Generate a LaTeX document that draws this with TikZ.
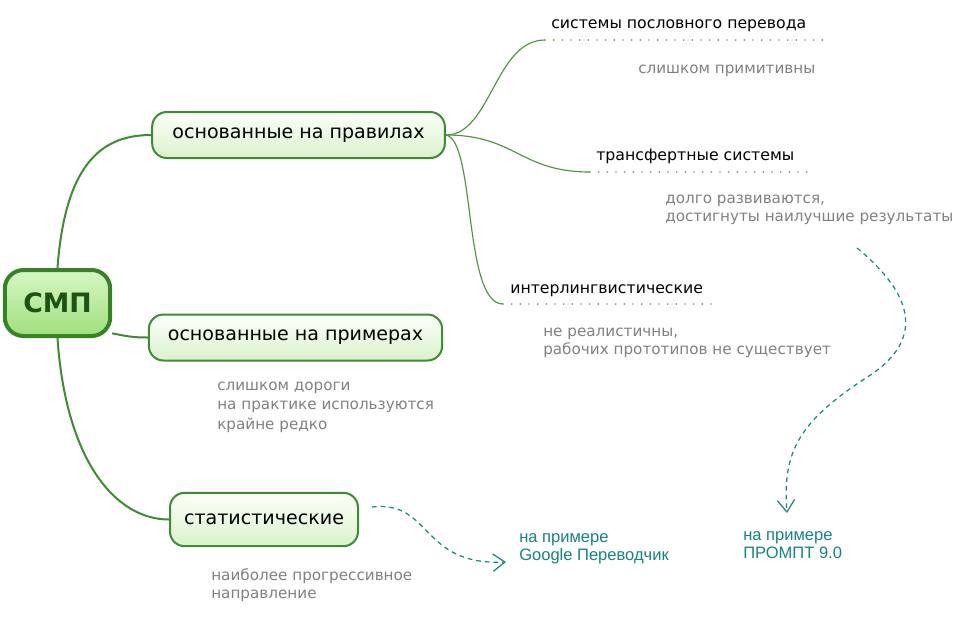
\documentclass[tikz,border=0pt]{standalone}
\usepackage{fontspec}
\setmainfont{DejaVu Sans}
\newfontfamily\arialfont{Liberation Sans}
\usetikzlibrary{arrows.meta}
\definecolor{MapGreen}{RGB}{62,140,50}
\definecolor{RootGreen}{RGB}{52,132,38}
\definecolor{TwigGreen}{RGB}{80,145,60}
\definecolor{DotGreen}{RGB}{105,170,88}
\definecolor{BoxTop}{RGB}{252,255,249}
\definecolor{BoxBot}{RGB}{218,242,204}
\definecolor{RootTop}{RGB}{215,246,195}
\definecolor{RootBot}{RGB}{158,224,125}
\definecolor{RootText}{RGB}{28,82,20}
\definecolor{NoteGray}{RGB}{128,128,128}
\definecolor{LinkTeal}{RGB}{20,132,126}

\begin{document}
\begin{tikzpicture}[x=0.75pt,y=-0.75pt,
  root/.style={draw=RootGreen,line width=3pt,rounded corners=14pt,top color=RootTop,bottom color=RootBot,
    text=RootText,font=\fontsize{20}{24}\selectfont\bfseries,minimum width=79pt,minimum height=49.5pt,inner sep=0pt},
  branch/.style={draw=MapGreen,line width=1.5pt,rounded corners=11pt,top color=BoxTop,bottom color=BoxBot,
    font=\fontsize{14.3}{17}\selectfont,minimum height=34.5pt,inner sep=0pt},
  sub/.style={anchor=base west,inner sep=0pt,font=\fontsize{11.8}{14}\selectfont},
  note/.style={anchor=base west,inner sep=0pt,text=NoteGray,font=\fontsize{11.4}{14}\selectfont},
  sample/.style={anchor=base west,inner sep=0pt,text=LinkTeal,font=\arialfont\fontsize{12.4}{15}\selectfont},
  trunk/.style={draw=MapGreen,line width=1.5pt},
  twig/.style={draw=TwigGreen,line width=0.85pt},
  underline/.style={draw=DotGreen,line width=1.4pt,line cap=round,dash pattern=on 0pt off 6.5pt},
  link/.style={draw=LinkTeal,line width=0.9pt,dash pattern=on 3.5pt off 3pt,-{Straight Barb[length=9pt,width=13pt]}}]
\useasboundingbox (0,0) rectangle (970,619);
% main topic and branches
\node[root] (smp) at (57.5,303) {СМП};
\node[branch,minimum width=219.5pt] (rules) at (298.5,135) {основанные на правилах};
\node[branch,minimum width=220pt] (examples) at (295.5,337.5) {основанные на примерах};
\node[branch,minimum width=141pt,minimum height=40pt] (stats) at (264,519.5) {статистические};
\draw[trunk] (smp.north) .. controls +(8,-110) and +(-45,0) .. (rules.west);
\draw[trunk] (smp.-29) .. controls +(15,3) and +(-15,0) .. (examples.west);
\draw[trunk] (smp.south) .. controls +(8,120) and +(-55,0) .. (stats.west);
% rule-based systems
\node[sub] (wordsys) at (551,28) {системы пословного перевода};
\node[sub] (transsys) at (596,160) {трансфертные системы};
\node[sub] (intersys) at (510,293) {интерлингвистические};
\coordinate (u1s) at (545,40); \coordinate (u1e) at (828,40);
\coordinate (u2s) at (590,172); \coordinate (u2e) at (810,172);
\coordinate (u3s) at (503,304); \coordinate (u3e) at (715,304);
\foreach \k in {1,2,3}{
  \draw[underline] (u\k s) -- (u\k e);
}
\draw[twig] (rules.east) .. controls +(45,0) and +(-50,0) .. (u1s);
\draw[twig] (rules.east) .. controls +(70,0) and +(-70,0) .. (u2s);
\draw[twig] (rules.east) .. controls +(30,5) and +(-40,0) .. (u3s);
% notes
\node[note] (wordnote) at (638,73) {слишком примитивны};
\foreach \t [count=\i] in {{долго развиваются,},{достигнуты наилучшие результаты}}{
  \node[note] (transnote\i) at (665,{203+18*(\i-1)}) {\t};
}
\foreach \t [count=\i] in {{не реалистичны,},{рабочих прототипов не существует}}{
  \node[note] (internote\i) at (543,{336+18*(\i-1)}) {\t};
}
\foreach \t [count=\i] in {слишком дороги,на практике используются,крайне редко}{
  \node[note] (exnote\i) at (217,{390+19.5*(\i-1)}) {\t};
}
\foreach \t [count=\i] in {наиболее прогрессивное,направление}{
  \node[note] (statnote\i) at (211,{580+18.5*(\i-1)}) {\t};
}
% examples of systems
\node[sample] (google1) at (519,542) {на примере};
\node[sample] (google2) at (519,560) {Google Переводчик};
\node[sample] (prompt1) at (743,540) {на примере};
\node[sample] (prompt2) at (743,558) {ПРОМПТ 9.0};
\coordinate (l1s) at (372,507); \coordinate (l1e) at (506,562);
\coordinate (l2s) at (857,248); \coordinate (l2m) at (872,374); \coordinate (l2e) at (787,513);
\draw[link] (l1s) .. controls (432,500) and (420,566) .. (l1e);
\draw[link] (l2s) .. controls (908,290) and (928,335) .. (l2m) .. controls (800,420) and (782,450) .. (l2e);
\end{tikzpicture}
\end{document}
